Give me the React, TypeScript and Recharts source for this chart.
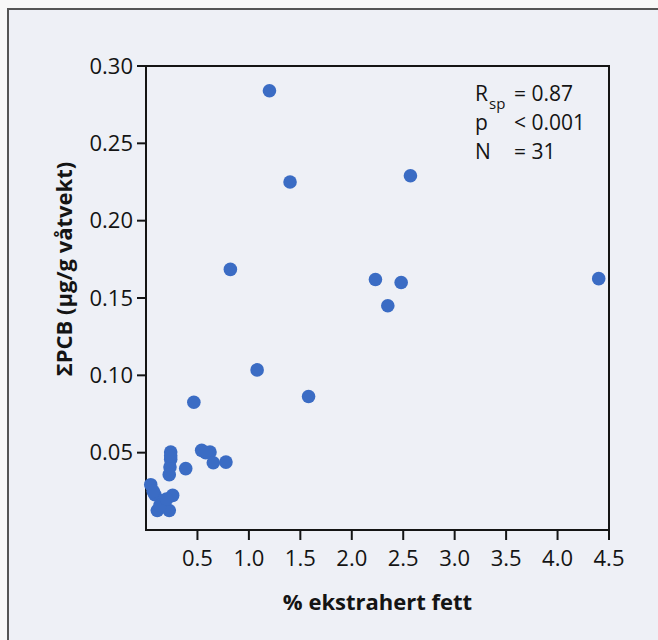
import { ScatterChart, Scatter, XAxis, YAxis, ReferenceArea, Customized } from 'recharts'

// % extracted fat vs. sum PCB (µg/g wet weight)
const fat = [
  1.2, 1.4, 2.57, 0.82, 2.23, 2.48, 2.35, 4.4, 1.08, 1.58, 0.465,
  0.24, 0.24, 0.233, 0.226, 0.386, 0.541, 0.622, 0.654, 0.777,
  0.046, 0.087, 0.259, 0.168, 0.11, 0.226, 0.136,
  0.2, 0.07, 0.58, 0.24,
]
const pcb = [
  0.284, 0.225, 0.229, 0.1685, 0.162, 0.16, 0.145, 0.1625, 0.1035, 0.0863, 0.0826,
  0.0504, 0.0457, 0.0407, 0.0358, 0.0397, 0.0515, 0.0504, 0.0435, 0.0439,
  0.0293, 0.0228, 0.0224, 0.0191, 0.0126, 0.0126, 0.0159,
  0.02, 0.025, 0.05, 0.048,
]
const xTicks = [0.5, 1.0, 1.5, 2.0, 2.5, 3.0, 3.5, 4.0, 4.5]
const yTicks = [0.05, 0.1, 0.15, 0.2, 0.25, 0.3]

const data = fat.map((x, i) => ({ x, y: pcb[i] }))

const FONT = '"Open Sans", "Noto Sans", sans-serif'
const INK = '#141414'
const DOT = '#3b6cc4'

// stats box, one text block
function Stats() {
  return (
    <text fontFamily={FONT} fontSize={21} fill={INK}>
      <tspan x={475} y={101}>R</tspan>
      <tspan x={489} y={109} fontSize={15}>sp</tspan>
      <tspan x={514} y={101}>= 0.87</tspan>
      <tspan x={475} y={130}>p</tspan>
      <tspan x={514} y={130}>&lt; 0.001</tspan>
      <tspan x={475} y={159}>N</tspan>
      <tspan x={514} y={159}>= 31</tspan>
    </text>
  )
}

function YTitle() {
  return (
    <text
      x={63}
      y={269}
      transform="rotate(-90 63 269)"
      textAnchor="middle"
      dominantBaseline="central"
      fontFamily={FONT}
      fontWeight="bold"
      fontSize={22}
      fill={INK}
    >
      ΣPCB (μg/g våtvekt)
    </text>
  )
}

export default function App() {
  return (
    <div style={{ position: 'absolute', left: 0, top: 0, width: 658, height: 640, background: '#f8f8f8', overflow: 'hidden' }}>
      <div style={{ position: 'absolute', left: 7, top: 8, width: 700, height: 700, borderLeft: '2px solid #555', borderTop: '2px solid #555', background: '#eef0f6' }} />
      <div style={{ position: 'absolute', left: 0, top: 0 }}>
        <ScatterChart width={658} height={640} margin={{ top: 66, right: 49, bottom: 0, left: 0 }}>
          <XAxis
            type="number"
            dataKey="x"
            domain={[0, 4.5]}
            ticks={xTicks}
            tickFormatter={(v: number) => v.toFixed(1)}
            height={110}
            axisLine={{ stroke: INK, strokeWidth: 2 }}
            tickLine={{ stroke: INK, strokeWidth: 2 }}
            tickSize={10}
            tickMargin={10}
            tick={{ fontSize: 22, fill: INK, fontFamily: FONT }}
            label={{ value: '% ekstrahert fett', position: 'insideBottom', offset: 30, fontSize: 22, fontWeight: 'bold', fill: INK, fontFamily: FONT }}
          />
          <YAxis
            type="number"
            dataKey="y"
            domain={[0, 0.3]}
            ticks={yTicks}
            tickFormatter={(v: number) => v.toFixed(2)}
            width={146}
            axisLine={{ stroke: INK, strokeWidth: 2 }}
            tickLine={{ stroke: INK, strokeWidth: 2 }}
            tickSize={9}
            tickMargin={4}
            tick={{ fontSize: 22, fill: INK, fontFamily: FONT }}
            label={{ content: () => <YTitle /> }}
          />
          <ReferenceArea x1={0} x2={4.5} y1={0} y2={0.3} fill="none" stroke={INK} strokeWidth={2} ifOverflow="visible" />
          <Scatter
            data={data}
            isAnimationActive={false}
            shape={(p: any) => <circle cx={p.cx} cy={p.cy} r={6.8} fill={DOT} />}
          />
          <Customized component={Stats} />
        </ScatterChart>
      </div>
    </div>
  )
}
